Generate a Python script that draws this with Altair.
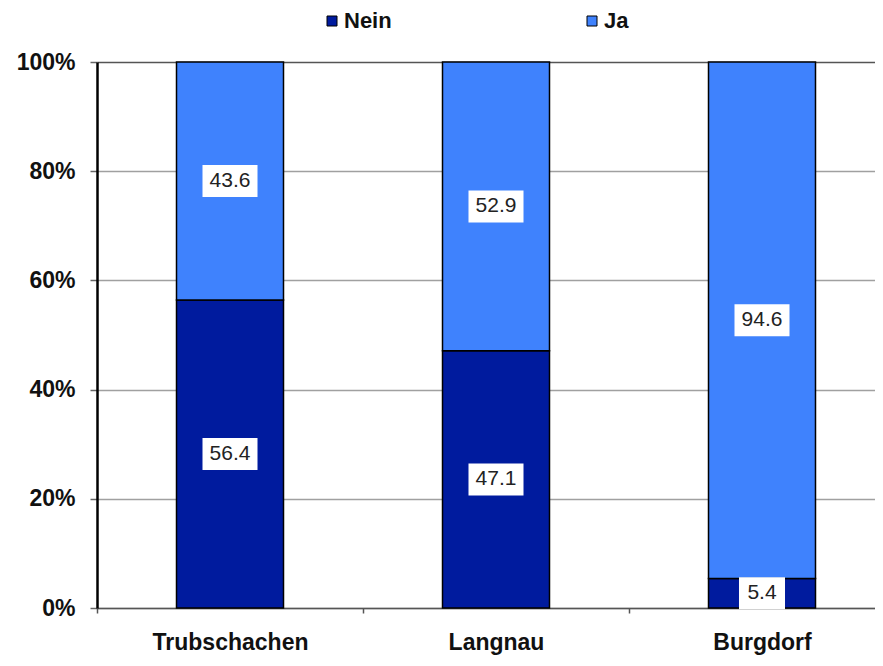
import altair as alt
import pandas as pd

categories = ["Trubschachen", "Langnau", "Burgdorf"]
nein_values = [56.4, 47.1, 5.4]
ja_values = [43.6, 52.9, 94.6]
answers = ["Nein", "Ja"]
colors = ["#001b9e", "#3f82fd"]
y_ticks = [0, 20, 40, 60, 80, 100]

rows = []
for c, n, j in zip(categories, nein_values, ja_values):
    rows.append({"cat": c, "answer": "Nein", "value": n, "ord": 0})
    rows.append({"cat": c, "answer": "Ja", "value": j, "ord": 1})
df = pd.DataFrame(rows)

# label box shape: width depends on label length (height 32px at size 1024 -> r=16)
def box_path(v):
    n = len(f"{v:.1f}")
    hw = 27.5 / 16 if n >= 4 else 23.0 / 16
    return f"M{-hw:.3f},-1L{hw:.3f},-1L{hw:.3f},1L{-hw:.3f},1Z"

df["box"] = df["value"].apply(box_path)

FONT = "Liberation Sans"
PLOT_W = 778   # visible part of the plot (the chart is cut at the right edge)
RANGE_W = 798  # three bands of 266 px

base = alt.Chart(df).transform_stack(
    stack="value", groupby=["cat"], sort=[alt.SortField("ord", order="ascending")], as_=["y0", "y1"]
).transform_calculate(mid="(datum.y0 + datum.y1) / 2")

x_scale = alt.Scale(paddingInner=0, paddingOuter=0, range=[0, RANGE_W])

x_enc = alt.X(
    "cat:N",
    sort=categories,
    scale=x_scale,
    axis=alt.Axis(
        title=None, labelAngle=0, labelFont=FONT, labelFontSize=23, labelFontWeight="bold",
        labelColor="#111", labelPadding=18, tickSize=5, tickBand="extent", tickColor="#555",
        tickWidth=1.5, domainColor="#555", domainWidth=1.5, grid=False,
    ),
)

y_scale = alt.Scale(domain=[0, 100], nice=False)

bars = base.mark_bar(width=107, stroke="black", strokeWidth=1.5).encode(
    x=x_enc,
    y=alt.Y(
        "y0:Q",
        scale=y_scale,
        axis=alt.Axis(
            title=None, values=y_ticks, labelExpr="datum.value + '%'", labelFont=FONT,
            labelFontSize=23, labelFontWeight="bold", labelColor="#111", labelPadding=15,
            tickSize=7, tickColor="#666", tickWidth=1.5, domainColor="black", domainWidth=2.5,
            grid=True,
            gridColor=alt.condition("datum.value == 100", alt.value("#555555"), alt.value("#a0a0a0")),
            gridWidth=1.5,
        ),
    ),
    y2="y1:Q",
    color=alt.Color(
        "answer:N",
        scale=alt.Scale(domain=answers, range=colors),
        legend=alt.Legend(
            orient="none", legendX=224, legendY=-52, direction="horizontal", title=None,
            symbolType="square", symbolSize=100, symbolStrokeColor="black", symbolStrokeWidth=1,
            labelFont=FONT, labelFontSize=22, labelFontWeight="bold", labelColor="#111",
            columnPadding=189, labelOffset=1,
        ),
    ),
    order=alt.Order("ord:Q"),
)

boxes = base.mark_point(filled=True, size=1024, opacity=1, strokeWidth=0).encode(
    x=alt.X("cat:N", sort=categories, scale=x_scale),
    y=alt.Y("mid:Q", scale=y_scale),
    shape=alt.Shape("box:N", scale=None),
    color=alt.value("white"),
)

labels = base.mark_text(font=FONT, fontSize=21, color="#222").encode(
    x=alt.X("cat:N", sort=categories, scale=x_scale),
    y=alt.Y("mid:Q", scale=y_scale),
    text=alt.Text("value:Q", format=".1f"),
)

chart = (
    alt.layer(bars, boxes, labels)
    .properties(
        width=PLOT_W, height=546,
        autosize=alt.AutoSizeParams(type="none"),
        padding={"left": 89, "top": 54, "right": 0, "bottom": 50},
    )
    .configure_view(strokeWidth=0)
)

chart.save("out.html", embed_options={"renderer": "svg", "actions": False})
